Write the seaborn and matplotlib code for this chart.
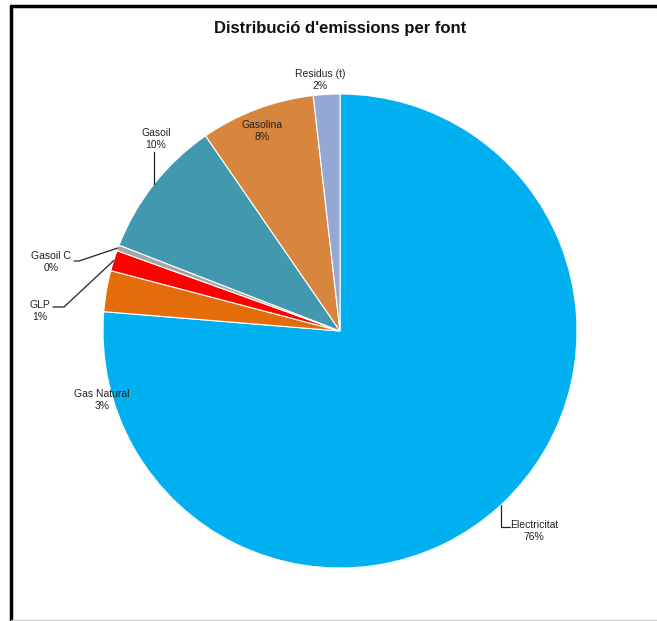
import numpy as np
import seaborn as sns
import matplotlib
matplotlib.use('Agg')
import matplotlib.pyplot as plt
from matplotlib.lines import Line2D

sns.set_theme(style='white')
plt.rcParams['font.family'] = ['Liberation Sans', 'DejaVu Sans']

# data (percent of total emissions)
fonts = ['Electricitat', 'Gas Natural', 'GLP', 'Gasoil C', 'Gasoil', 'Gasolina', 'Residus (t)']
shares = [76.3, 2.8, 1.4, 0.4, 9.5, 7.8, 1.8]
colors = ['#00B0F0', '#E46C0A', '#FF0000', '#A6A6A6', '#4198AF', '#D8853D', '#95A8D4']

W, H = 657, 621
CX, CY, R = 340, 331, 237


def img(x, y):
    # picture pixel coords -> axes coords (y up)
    return x, H - y


# label layout: text centre, and optional leader points (picture pixels)
# an x of None means "straight up/down from where the leader leaves the pie"
label_pos = {
    'Electricitat': ((534, 531), [(None, 527), (510, 527)]),
    'Gas Natural': ((102, 400), None),
    'GLP': ((40, 311), [(64, 307), (53, 307)]),
    'Gasoil C': ((51, 262), [(79, 261), (74, 261)]),
    'Gasoil': ((156, 139), [(None, 152)]),
    'Gasolina': ((262, 131), None),
    'Residus (t)': ((320, 80), None),
}

fig = plt.figure(figsize=(W / 100, H / 100), dpi=100)
ax = fig.add_axes([0, 0, 1, 1])

wedges, _ = ax.pie(shares, colors=colors, startangle=90, counterclock=False,
                   center=img(CX, CY), radius=R,
                   wedgeprops=dict(edgecolor='white', linewidth=0.8))
ax.set_aspect('auto')
ax.set_xlim(0, W)
ax.set_ylim(0, H)
ax.axis('off')

for w, name, val in zip(wedges, fonts, shares):
    tpos, leader = label_pos[name]
    ax.text(*img(*tpos), f'{name}\n{val:.0f}%', ha='center', va='center',
            fontsize=7.5, color='#222222', linespacing=1.2)
    if leader:
        mid = np.deg2rad((w.theta1 + w.theta2) / 2)
        ex, ey = CX + R * np.cos(mid), CY - R * np.sin(mid)
        pts = [(ex, ey)] + [(ex if px is None else px, py) for px, py in leader]
        xs = [p[0] for p in pts]
        ys = [H - p[1] for p in pts]
        ax.plot(xs, ys, color='#222222', lw=0.9)

ax.text(*img(340, 28), "Distribució d'emissions per font", ha='center', va='center',
        fontsize=12, fontweight='bold', color='#111111')

# frame as in the original screenshot
fig.add_artist(Line2D([11 / W, 11 / W], [0, 1 - 6 / H], transform=fig.transFigure,
                      color='black', lw=2.5))
fig.add_artist(Line2D([11 / W, 1], [1 - 6 / H, 1 - 6 / H], transform=fig.transFigure,
                      color='black', lw=2.5))
fig.add_artist(Line2D([11 / W, 1], [1.5 / H, 1.5 / H], transform=fig.transFigure,
                      color='#cccccc', lw=1))

fig.savefig('out.png', dpi=100)
